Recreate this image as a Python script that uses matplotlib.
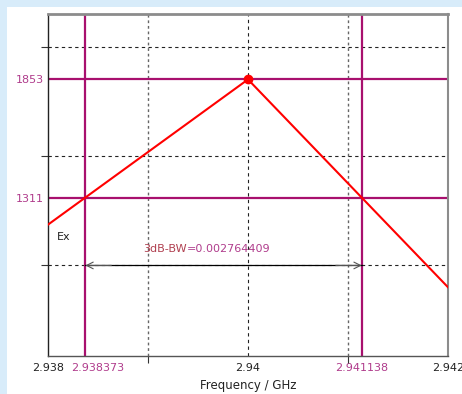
import matplotlib

matplotlib.use("Agg")
import matplotlib.pyplot as plt
from matplotlib.patches import Rectangle

# response curve (piecewise linear)
freq = [2.938, 2.94, 2.942]
mag = [1187, 1853, 900]

peak_f = 2.94
peak_v = 1853
level_3db = 1311
f_lo = 2.938373
f_hi = 2.941138
bw = 0.002764409

x_ticks = [2.938, 2.94, 2.942]
x_tick_labels = ["2.938", "2.94", "2.942"]
grid_x = [2.939, 2.94, 2.941]
grid_y = [1000, 1500, 2000]

MAG = "#A8106E"
MAG_TXT = "#B03C8C"

fig = plt.figure(figsize=(4.62, 3.94), dpi=100)
fig.patch.set_facecolor("#D8ECFA")
W, H = 462, 394
fig.patches.append(Rectangle((7 / W, 0), (462 - 7) / W, (394 - 7) / H,
                             transform=fig.transFigure, facecolor="white",
                             edgecolor="none", zorder=-10))

ax = fig.add_axes([48 / W, 1 - 355.5 / H, 400 / W, (355.5 - 14) / H])
ax.set_facecolor("white")
ax.set_xlim(2.938, 2.942)
ax.set_ylim(587, 2153)

# grid lines (outer ones grey dotted, centre one black dashed)
for gx in grid_x:
    if gx == peak_f:
        ax.axvline(gx, color="#222222", linestyle=(0, (3, 3)), linewidth=0.8, zorder=1)
    else:
        ax.axvline(gx, color="#666666", linestyle=(0, (2, 2)), linewidth=1.0, zorder=1)
for gy in grid_y:
    ax.axhline(gy, color="#222222", linestyle=(0, (3, 3)), linewidth=0.8, zorder=1)

# 3dB markers
ax.axhline(peak_v, color=MAG, linewidth=1.6, zorder=2)
ax.axhline(level_3db, color=MAG, linewidth=1.6, zorder=2)
ax.axvline(f_lo, color=MAG, linewidth=1.6, zorder=2)
ax.axvline(f_hi, color=MAG, linewidth=1.6, zorder=2)

ax.plot(freq, mag, color="#FF0000", linewidth=1.5, zorder=3)
ax.plot([peak_f], [peak_v], "o", color="#FF0000", markersize=6, zorder=4)

# bandwidth arrow
ax.plot([f_lo, f_hi], [1000, 1000], color="black", linewidth=0.9, zorder=3)
for tip, tail in ((f_lo, f_lo + 0.00026), (f_hi, f_hi - 0.00026)):
    ax.annotate("", xy=(tip, 1000), xytext=(tail, 1000),
                arrowprops=dict(arrowstyle="->", color="#555555", lw=0.8,
                                shrinkA=0, shrinkB=0, mutation_scale=12), zorder=4)
ax.text(2.93939, 1075, "3dB-BW", color="#B04050", fontsize=8, ha="right", va="center")
ax.text(2.93939, 1075, f"={bw:.9f}", color=MAG_TXT, fontsize=8, ha="left", va="center")
ax.text(2.93809, 1130, "Ex", color="#222222", fontsize=8, ha="left", va="center")

# ticks: labels on majors, small marks only where the reference has them
ax.set_xticks(x_ticks + [f_lo, f_hi])
ax.set_xticklabels(x_tick_labels + ["", f"{f_hi:.6f}"], fontsize=8)
for lbl in ax.get_xticklabels()[3:]:
    lbl.set_color(MAG_TXT)
for lbl in ax.get_xticklabels()[:3]:
    lbl.set_color("#222222")
ax.set_xticks([2.938, 2.939, 2.941, 2.942], minor=True)
ax.annotate(f"{f_lo:.6f}", xy=(f_lo, 0), xycoords=ax.get_xaxis_transform(),
            xytext=(-10, -5.5), textcoords="offset points", fontsize=8,
            color=MAG_TXT, ha="left", va="top", annotation_clip=False)
ax.set_yticks([level_3db, peak_v])
ax.set_yticklabels([str(level_3db), str(peak_v)], fontsize=8, color=MAG_TXT)
ax.set_yticks(grid_y, minor=True)
ax.tick_params(axis="x", which="major", length=0, pad=5.5)
ax.tick_params(axis="x", which="minor", length=5, width=0.8, color="#333333")
ax.tick_params(axis="y", which="major", length=0, pad=3)
ax.tick_params(axis="y", which="minor", length=5, width=0.8, color="#333333")
ax.set_xlabel("Frequency / GHz", fontsize=8.5, color="#222222", labelpad=4)

ax.spines["left"].set_color("#222222")
ax.spines["bottom"].set_color("#555555")
ax.spines["top"].set_color("#8C8C8C")
ax.spines["right"].set_color("#8C8C8C")
ax.spines["top"].set_linewidth(2)
ax.spines["right"].set_linewidth(1.5)
for s in ("left", "bottom"):
    ax.spines[s].set_linewidth(1)

fig.savefig("out.png", dpi=100, facecolor=fig.get_facecolor())
